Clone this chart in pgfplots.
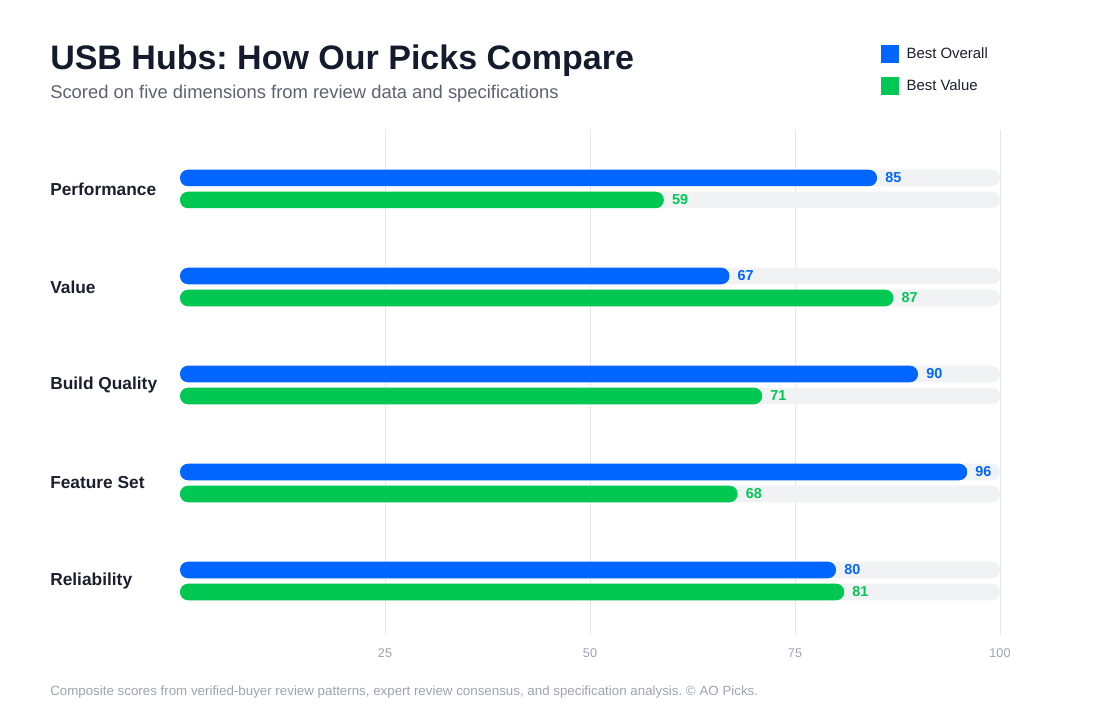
\documentclass[border=0pt]{standalone}
\usepackage{pgfplots}
\usepackage{pgfplotstable}
\pgfplotsset{compat=1.18}
\usepackage{fontspec}
\setmainfont{Liberation Sans}
\frenchspacing

\definecolor{bestoverall}{HTML}{0066FF}
\definecolor{bestvalue}{HTML}{00C853}
\definecolor{track}{HTML}{F1F2F4}
\definecolor{gridc}{HTML}{E5E7EB}
\definecolor{titlec}{HTML}{141B2D}
\definecolor{subc}{HTML}{5B6270}
\definecolor{catc}{HTML}{1A1F2E}
\definecolor{mutedc}{HTML}{9CA3AF}

% scores, one row per category (y = 4 is the top row)
\pgfplotstableread{
y  overall value track
4  85      59    100
3  67      87    100
2  90      71    100
1  96      68    100
0  80      81    100
}\scores

\begin{document}
\begin{tikzpicture}
\path[use as bounding box] (0,0) rectangle (825pt,540pt);

\node[anchor=base west, inner sep=0pt, text=titlec,
      font=\fontsize{25.5}{30}\selectfont\bfseries]
  at (37.5pt,487.9pt) {USB Hubs: How Our Picks Compare};
\node[anchor=base west, inner sep=0pt, text=subc,
      font=\fontsize{13.8}{16}\selectfont]
  at (37.5pt,466.3pt) {Scored on five dimensions from review data and specifications};
\node[anchor=base west, inner sep=0pt, text=mutedc,
      font=\fontsize{10}{12}\selectfont]
  at (37.5pt,18pt) {Composite scores from verified-buyer review patterns, expert review consensus, and specification analysis. © AO Picks.};

\begin{axis}[
    at={(135pt,63.75pt)}, anchor=south west,
    scale only axis,
    width=615pt, height=378.75pt,
    xbar,
    bar width=12.4pt,
    xmin=0, xmax=100,
    ymin=-0.551, ymax=4.602,
    xtick={25,50,75,100},
    ytick={0,1,2,3,4},
    yticklabels={Reliability,Feature Set,Build Quality,Value,Performance},
    major tick length=0pt,
    axis line style={draw=none},
    xmajorgrids,
    grid style={gridc, line width=0.75pt},
    /pgf/number format/assume math mode=true,
    xticklabel style={text=mutedc, yshift=-6.75pt, font=\fontsize{9.5}{11}\selectfont},
    yticklabel style={anchor=west, inner sep=0pt, xshift=-97.5pt,
                      text=catc, font=\fontsize{13}{15}\selectfont\bfseries},
    legend style={at={(0.854,1.168)}, anchor=north west, draw=none, fill=none,
                  inner sep=0pt, row sep=10.5pt, column sep=6pt,
                  font=\fontsize{11.2}{13}\selectfont, text=catc,
                  nodes={inner sep=0pt}},
    legend cell align=left,
    legend image code/.code={\fill[#1, sharp corners] (0pt,-6.75pt) rectangle (13.5pt,6.75pt);},
]
% background tracks
\addplot[forget plot, fill=track, draw=none, rounded corners=6pt, bar shift=8.25pt]
  table[x=track, y=y] {\scores};
\addplot[forget plot, fill=track, draw=none, rounded corners=6pt, bar shift=-8.25pt]
  table[x=track, y=y] {\scores};

\addplot[fill=bestoverall, draw=none, rounded corners=6pt, bar shift=8.25pt,
         nodes near coords,
         every node near coord/.append style={text=bestoverall, anchor=west, xshift=6pt,
           inner sep=0pt, font=\fontsize{10.8}{12}\selectfont\bfseries}]
  table[x=overall, y=y] {\scores};
\addplot[fill=bestvalue, draw=none, rounded corners=6pt, bar shift=-8.25pt,
         nodes near coords,
         every node near coord/.append style={text=bestvalue, anchor=west, xshift=6pt,
           inner sep=0pt, font=\fontsize{10.8}{12}\selectfont\bfseries}]
  table[x=value, y=y] {\scores};
\legend{Best Overall, Best Value}
\end{axis}
\end{tikzpicture}
\end{document}
